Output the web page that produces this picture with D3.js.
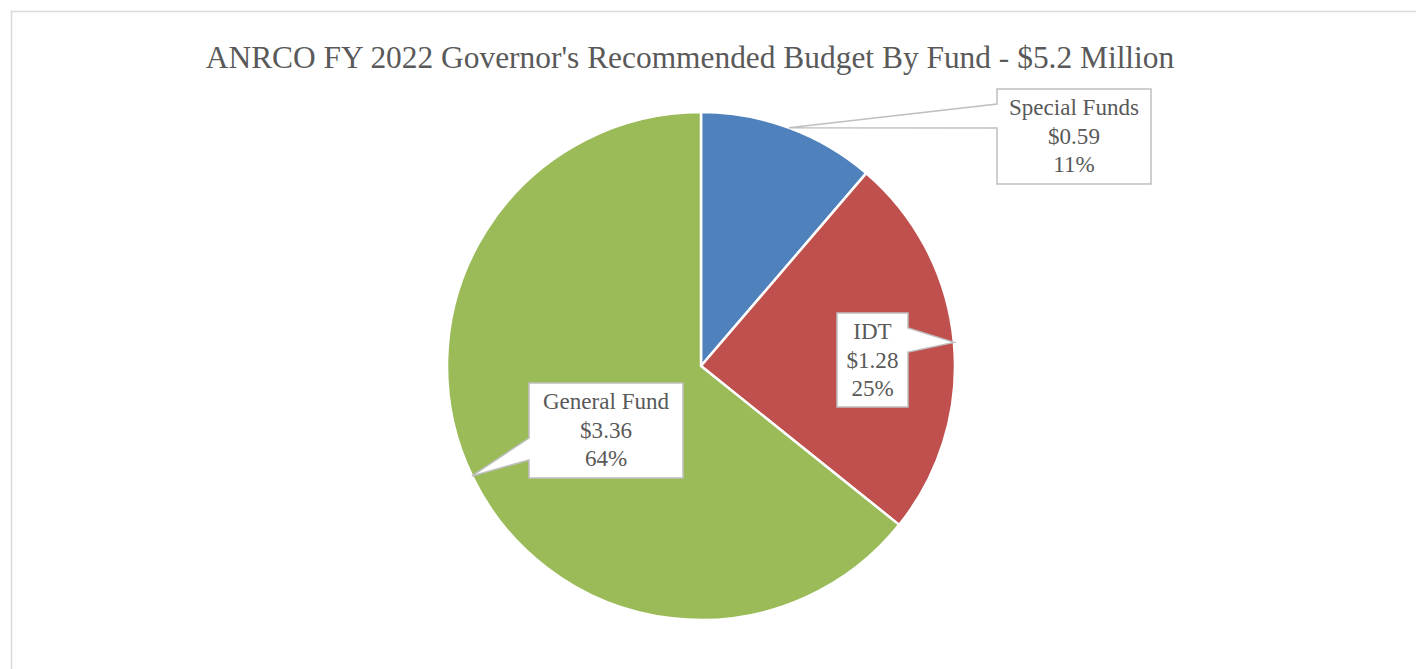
<!DOCTYPE html>
<html>
<head>
<meta charset="utf-8">
<script src="https://cdn.jsdelivr.net/npm/d3@7"></script>
<style>
  html, body { margin: 0; padding: 0; background: #fff; }
  svg { display: block; }
  text { font-family: "Palatino Linotype", "Book Antiqua", Palatino, "Liberation Serif", serif; fill: #595959; }
</style>
</head>
<body>
<svg id="chart" width="1416" height="669"></svg>
<script>
// ============ Data ============
const TITLE = "ANRCO FY 2022 Governor's Recommended Budget By Fund - $5.2 Million";
const funds = ["Special Funds", "IDT", "General Fund"];
const amounts = [0.59, 1.28, 3.36];
const percentLabels = ["11%", "25%", "64%"];
const colors = ["#4F81BD", "#C0504D", "#9BBB59"];

// ============ Layout ============
const W = 1416, H = 669;
const CX = 701, CY = 366, R = 254;

// callout boxes: offset of box top-left from pie centre, size, which side the pointer leaves from,
// and where along that side its base sits
const callouts = [
  { dx: 296, dy: -277, w: 154, h: 95, side: "left",  b0: 15, b1: 39 },
  { dx: 136, dy: -53,  w: 71,  h: 94, side: "right", b0: 15, b1: 39 },
  { dx: -172, dy: 17,  w: 154, h: 95, side: "left",  b0: 55, b1: 77 }
];

const svg = d3.select("#chart");

// chart area border (runs off the right and bottom edges)
svg.append("rect")
  .attr("x", 11.5).attr("y", 11.5)
  .attr("width", W + 20).attr("height", H + 20)
  .attr("fill", "none").attr("stroke", "#d9d9d9").attr("stroke-width", 1.5);

// ---- Title, fitted to the reference width ----
const title = svg.append("text")
  .attr("x", 690).attr("y", 68)
  .attr("text-anchor", "middle")
  .attr("font-size", 28)
  .text(TITLE);
const tw = title.node().getComputedTextLength();
title.attr("font-size", 28 * 969 / tw);

// ---- Pie ----
const pie = d3.pie().sort(null).value(d => d)(amounts);
const arc = d3.arc().innerRadius(0).outerRadius(R);

const g = svg.append("g").attr("transform", `translate(${CX},${CY})`);
g.selectAll("path.slice")
  .data(pie)
  .enter()
  .append("path")
  .attr("class", "slice")
  .attr("d", arc)
  .attr("fill", (d, i) => colors[i])
  .attr("stroke", "#fff")
  .attr("stroke-width", 2.5)
  .attr("stroke-linejoin", "round");

// ---- Callouts ----
// font size for callout text, matched so "Special Funds" is ~130px wide
const probe = svg.append("text").attr("font-size", 20).text(funds[0]);
const labelSize = 20 * 130 / probe.node().getComputedTextLength();
probe.remove();

pie.forEach((d, i) => {
  const c = callouts[i];
  const mid = (d.startAngle + d.endAngle) / 2;
  const tip = [R * Math.sin(mid), -R * Math.cos(mid)];
  const x0 = c.dx, y0 = c.dy, x1 = c.dx + c.w, y1 = c.dy + c.h;

  let pts;
  if (c.side === "left") {
    pts = [[x0, y0], [x1, y0], [x1, y1], [x0, y1], [x0, y0 + c.b1], tip, [x0, y0 + c.b0]];
  } else {
    pts = [[x0, y0], [x1, y0], [x1, y0 + c.b0], tip, [x1, y0 + c.b1], [x1, y1], [x0, y1]];
  }

  g.append("path")
    .attr("d", "M" + pts.map(p => p.join(",")).join("L") + "Z")
    .attr("fill", "#fff")
    .attr("stroke", "#bfbfbf")
    .attr("stroke-width", 1.5)
    .attr("stroke-linejoin", "miter");

  const lines = [funds[i], "$" + amounts[i].toFixed(2), percentLabels[i]];
  const tx = x0 + c.w / 2;
  g.append("text")
    .attr("text-anchor", "middle")
    .attr("font-size", labelSize)
    .selectAll("tspan")
    .data(lines)
    .enter()
    .append("tspan")
    .attr("x", tx)
    .attr("y", (l, k) => y0 + 26 + k * 28.5)
    .text(l => l);
});
</script>
</body>
</html>
